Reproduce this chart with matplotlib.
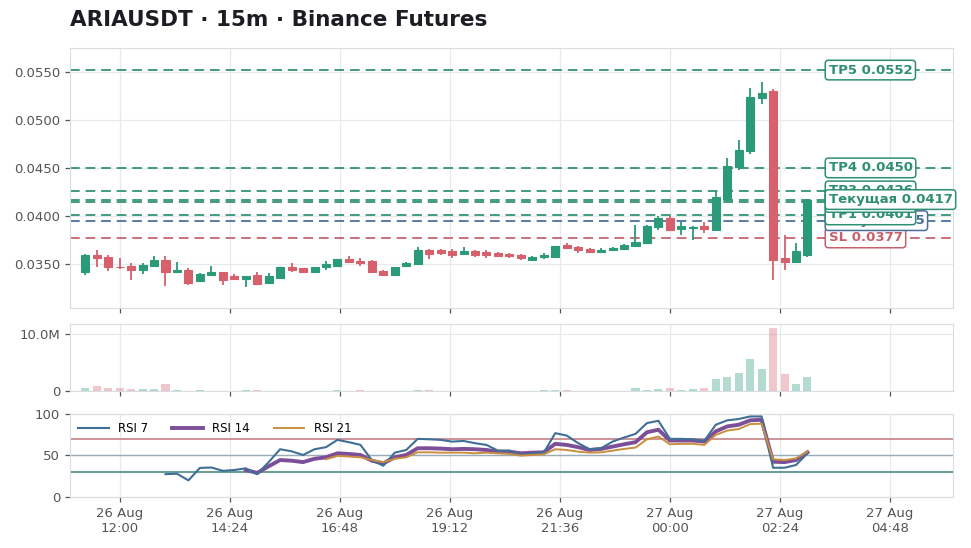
import numpy as np
import pandas as pd
import matplotlib
matplotlib.use('Agg')
import matplotlib.pyplot as plt
import matplotlib.dates as mdates
import matplotlib.transforms as mtransforms
from matplotlib.ticker import MultipleLocator, FixedLocator, FuncFormatter

# 15m candles, ARIAUSDT
times = pd.date_range('2025-08-26 11:15', periods=64, freq='15min')

opens = [0.0342, 0.0359, 0.0357, 0.0347, 0.0348, 0.0344, 0.0348, 0.0354, 0.0341, 0.0344,
         0.0332, 0.0338, 0.0341, 0.0337, 0.0334, 0.0338, 0.0330, 0.0335, 0.0347, 0.0346,
         0.0341, 0.0347, 0.0348, 0.0355, 0.0353, 0.0353, 0.0343, 0.0338, 0.0348, 0.0350,
         0.0364, 0.0364, 0.0363, 0.0360, 0.0363, 0.0362, 0.0361, 0.0360, 0.0359, 0.0354,
         0.0357, 0.0357, 0.0370, 0.0368, 0.0365, 0.0362, 0.0364, 0.0365, 0.0369, 0.0372,
         0.0388, 0.0398, 0.0386, 0.0387, 0.0389, 0.0385, 0.0418, 0.0451, 0.0468, 0.0523,
         0.0530, 0.0356, 0.0352, 0.0359]
highs = [0.0360, 0.0364, 0.0359, 0.0356, 0.0351, 0.0351, 0.0358, 0.0358, 0.0352, 0.0346,
         0.0340, 0.0348, 0.0342, 0.0339, 0.0337, 0.0341, 0.0340, 0.0347, 0.0351, 0.0346,
         0.0347, 0.0353, 0.0355, 0.0358, 0.0356, 0.0354, 0.0344, 0.0347, 0.0352, 0.0368,
         0.0365, 0.0365, 0.0365, 0.0368, 0.0364, 0.0364, 0.0362, 0.0361, 0.0360, 0.0358,
         0.0361, 0.0369, 0.0372, 0.0369, 0.0366, 0.0367, 0.0368, 0.0371, 0.0390, 0.0390,
         0.0400, 0.0400, 0.0394, 0.0389, 0.0394, 0.0426, 0.0460, 0.0479, 0.0533, 0.0540,
         0.0532, 0.0380, 0.0372, 0.0418]
lows = [0.0338, 0.0347, 0.0343, 0.0345, 0.0333, 0.0339, 0.0348, 0.0327, 0.0341, 0.0328,
        0.0331, 0.0338, 0.0328, 0.0333, 0.0326, 0.0328, 0.0330, 0.0335, 0.0342, 0.0340,
        0.0341, 0.0344, 0.0348, 0.0351, 0.0348, 0.0340, 0.0337, 0.0338, 0.0347, 0.0350,
        0.0355, 0.0359, 0.0356, 0.0360, 0.0357, 0.0356, 0.0357, 0.0356, 0.0354, 0.0353,
        0.0355, 0.0357, 0.0367, 0.0361, 0.0361, 0.0362, 0.0363, 0.0364, 0.0368, 0.0371,
        0.0385, 0.0384, 0.0380, 0.0375, 0.0382, 0.0384, 0.0414, 0.0448, 0.0465, 0.0517,
        0.0333, 0.0344, 0.0351, 0.0357]
closes = [0.0359, 0.0356, 0.0347, 0.03465, 0.0344, 0.0349, 0.0354, 0.0342, 0.0344, 0.0330,
          0.0339, 0.0342, 0.0333, 0.0334, 0.0337, 0.0329, 0.0337, 0.0347, 0.0344, 0.0341,
          0.0347, 0.0350, 0.0355, 0.0352, 0.0351, 0.0341, 0.0338, 0.0347, 0.0351, 0.0364,
          0.0360, 0.0361, 0.0359, 0.0363, 0.0359, 0.0359, 0.0358, 0.0358, 0.0356, 0.0357,
          0.0359, 0.0369, 0.0367, 0.0364, 0.0362, 0.0364, 0.0367, 0.0370, 0.0373, 0.0389,
          0.0398, 0.0385, 0.0389, 0.0388, 0.0386, 0.0420, 0.0452, 0.0469, 0.0524, 0.0528,
          0.0354, 0.0352, 0.0363, 0.0417]
volumes_m = [0.47, 0.87, 0.58, 0.47, 0.35, 0.29, 0.29, 1.22, 0.10, 0.08,
             0.10, 0.08, 0.06, 0.05, 0.10, 0.10, 0.05, 0.08, 0.08, 0.04,
             0.04, 0.05, 0.10, 0.05, 0.10, 0.05, 0.04, 0.05, 0.05, 0.22,
             0.10, 0.08, 0.06, 0.06, 0.05, 0.04, 0.05, 0.04, 0.05, 0.04,
             0.10, 0.15, 0.12, 0.05, 0.04, 0.04, 0.05, 0.08, 0.47, 0.20,
             0.30, 0.52, 0.12, 0.29, 0.52, 2.10, 2.44, 3.14, 5.58, 3.84,
             11.05, 3.02, 1.22, 2.44]

nan = np.nan
rsi7 = [nan] * 7 + [27.5, 28, 20, 35, 35.5, 31.5, 32.5, 34.5, 27.5, 42, 57.5, 55, 50.6, 57.5,
                    60, 68.8, 66, 62.8, 44.5, 37.6, 53.4, 56.6, 70, 69.5, 68.8, 66.7, 67.5,
                    64.8, 62.7, 55.8, 55.8, 50.6, 52.6, 53.4, 76.9, 74, 64.8, 57.5, 58.7,
                    66.7, 71.6, 76, 89, 91.8, 70, 70, 69.5, 67.5, 87, 92.3, 93.9, 97, 97,
                    35.2, 35.2, 38.5, 52.6]
rsi14 = [nan] * 14 + [32.5, 29, 37, 44.5, 43.7, 42, 46, 47.8, 52.6, 51.8, 50.6, 43.7, 40.5,
                      47.8, 50.6, 58.7, 58.7, 58.3, 57.5, 57.9, 57.5, 56.6, 54.6, 54.6, 52.6,
                      53.4, 53.8, 64, 62.7, 60, 56.6, 57.9, 60.7, 63.5, 66, 78, 81, 68, 68,
                      68, 66.7, 79, 85, 87, 92.3, 93, 42.5, 42, 44.5, 53.8]
rsi21 = [nan] * 21 + [45.4, 49.5, 48.7, 47.8, 44.5, 42, 46, 47.8, 53.8, 53.8, 53.4, 53.4,
                      53.4, 52.6, 53.4, 52.6, 51.8, 49.8, 50.6, 51.4, 57.5, 56.6, 54.6, 53.4,
                      53.8, 55.8, 57.9, 59.5, 69.5, 72.8, 63.5, 64, 64, 62.7, 74.8, 80, 81.8,
                      87.8, 88.2, 45.4, 44.5, 46.5, 54.6]

level_names = ['SL', 'Entry', 'TP1', 'TP2', 'TP3', 'TP4', 'TP5', 'Текущая']
level_values = [0.0377, 0.0395, 0.0401, 0.0414, 0.0426, 0.0450, 0.0552, 0.0417]

GREEN = '#2a9a78'
RED = '#d6606b'
TP_C = '#2f8f73'
ENTRY_C = '#4a6d9c'
SL_C = '#c8606b'
GRID_C = '#e6e9ee'
SPINE_C = '#d8dde4'
TXT_C = '#555555'
level_colors = [SL_C, ENTRY_C, TP_C, TP_C, TP_C, TP_C, TP_C, TP_C]

x = mdates.date2num(times.to_pydatetime())
bar = 1 / 96.0
up = np.array(closes) >= np.array(opens)
cols = np.where(up, GREEN, RED)

fig = plt.figure(figsize=(9.71, 5.48), dpi=100)
ax = fig.add_axes([0.0721, 0.438, 0.9094, 0.4744])
axv = fig.add_axes([0.0721, 0.2865, 0.9094, 0.1223], sharex=ax)
axr = fig.add_axes([0.0721, 0.0931, 0.9094, 0.1515], sharex=ax)

for a in (ax, axv, axr):
    a.grid(True, color=GRID_C, lw=0.9)
    a.set_axisbelow(True)
    for s in a.spines.values():
        s.set_color(SPINE_C)
    a.tick_params(colors=TXT_C, labelsize=9.5, length=3.5, width=0.9)

# candles
body_lo = np.minimum(opens, closes)
body_h = np.abs(np.array(closes) - np.array(opens))
body_h = np.maximum(body_h, 0.00003)
ax.vlines(x, lows, highs, colors=cols, lw=1.3, zorder=3)
ax.bar(x, body_h, bottom=body_lo, width=bar * 0.7, color=cols, edgecolor=cols, lw=0.8, zorder=4)

ax.set_ylim(0.0304, 0.0575)
ax.yaxis.set_major_locator(MultipleLocator(0.005))
ax.yaxis.set_major_formatter(FuncFormatter(lambda v, p: f'{v:.4f}'))

# levels
trans = mtransforms.blended_transform_factory(ax.transAxes, ax.transData)
for name, val, c in zip(level_names, level_values, level_colors):
    ax.axhline(val, color=c, lw=1.4, ls=(0, (5, 3)), alpha=0.9, zorder=2)
for name, val, c in zip(level_names, level_values, level_colors):
    ax.text(0.859, val, f'{name} {val:.4f}', transform=trans, ha='left', va='center',
            fontsize=9.5, fontweight='bold', color=c, zorder=6,
            bbox=dict(boxstyle='round,pad=0.25', fc='white', ec=c, lw=1.1))

ax.tick_params(labelbottom=False)
axv.tick_params(labelbottom=False)

# volume
vols = np.array(volumes_m) * 1e6
axv.bar(x, vols, width=bar * 0.7, color=cols, alpha=0.35, zorder=3)
axv.set_ylim(0, vols.max() * 1.06)
axv.yaxis.set_major_locator(FixedLocator([0, 10e6]))
axv.yaxis.set_major_formatter(FuncFormatter(lambda v, p: '0' if v == 0 else f'{v / 1e6:.1f}M'))

# rsi
axr.plot(x, rsi7, color='#3f6f96', lw=1.5, label='RSI 7', zorder=4)
axr.plot(x, rsi14, color='#7d4f98', lw=2.8, label='RSI 14', zorder=3)
axr.plot(x, rsi21, color='#c98f3e', lw=1.4, label='RSI 21', zorder=5)
axr.axhline(70, color='#c98a90', lw=1.3, zorder=2)
axr.axhline(50, color='#9aaab8', lw=1.0, zorder=2)
axr.axhline(30, color='#6c9e9a', lw=1.5, zorder=2)
axr.set_ylim(0, 100)
axr.yaxis.set_major_locator(FixedLocator([0, 50, 100]))
axr.legend(loc='upper left', ncol=3, frameon=False, fontsize=8.5, handlelength=2.6,
           columnspacing=2.0, borderaxespad=0.3)

axr.xaxis.set_major_locator(MultipleLocator(0.1))
axr.xaxis.set_major_formatter(mdates.DateFormatter('%d %b\n%H:%M'))
axr.set_xlim(x[0] - 1.33 * bar, x[0] + 75.7 * bar)

fig.text(0.072, 0.963, 'ARIAUSDT · 15m · Binance Futures', fontsize=15.5, fontweight='bold',
         color='#1c1c24', ha='left', va='center')

fig.savefig('out.png', dpi=100)
